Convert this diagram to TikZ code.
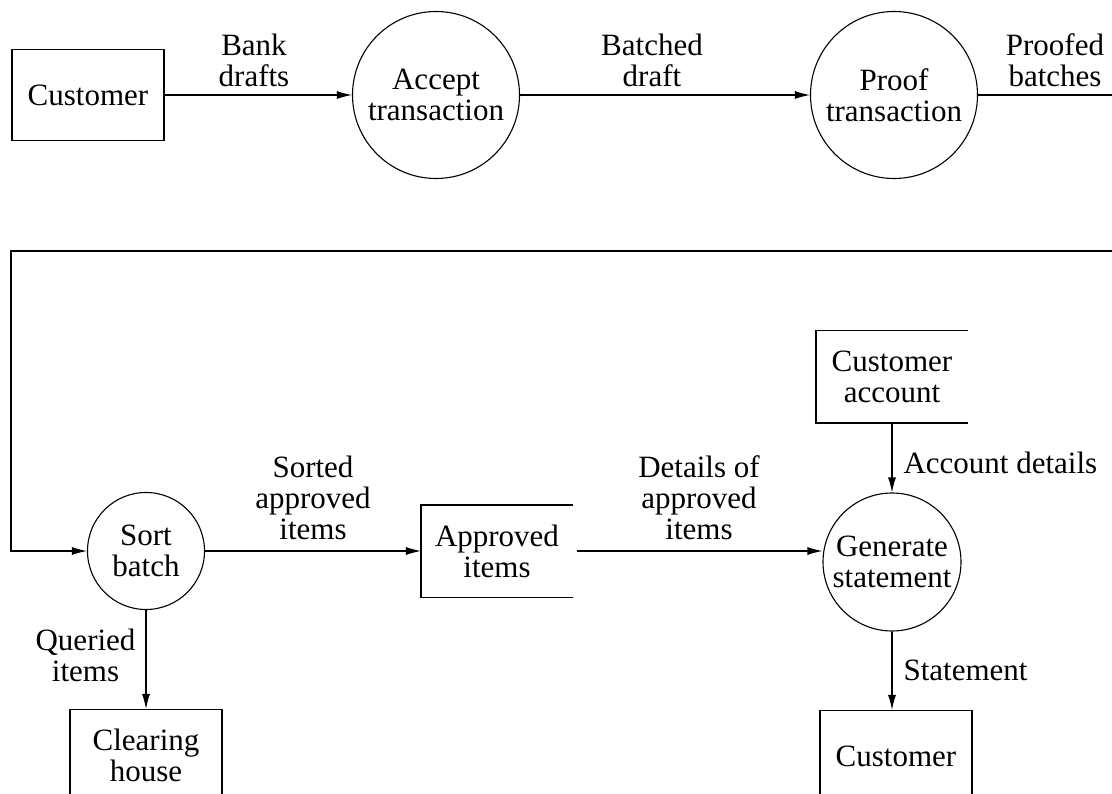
\documentclass[tikz,border=0pt]{standalone}
\usepackage{fontspec}
\setmainfont{Liberation Serif}
\usetikzlibrary{arrows.meta}
\newcommand{\dfdfont}{\fontsize{31pt}{31pt}\selectfont}

\begin{document}
\begin{tikzpicture}[x=1pt, y=-1pt,
		every node/.style={font=\dfdfont, align=center, inner sep=0pt},
		entity/.style={draw, rectangle, minimum width=152pt, minimum height=91pt},
		store/.style={rectangle, minimum width=151pt, minimum height=91pt},
		process/.style={draw, circle},
		flow/.style={-{Latex[length=15pt, width=8pt]}},
		line width=1.1pt]
			%%%%% START %%%%%
			
			\useasboundingbox (0, 0) rectangle (1112, 794);
			\clip (0, 0) rectangle (1112, 794);
			
			% top row
			\node[entity] (customer) at (88, 95) {Customer};
			\node[process, minimum size=167pt] (accept) at (436, 95) {Accept\\transaction};
			\node[process, minimum size=167pt] (proof) at (894, 95) {Proof\\transaction};
			
			\node (bankdrafts) at (254, 60) {Bank\\drafts};
			\node (batched) at (652, 60) {Batched\\draft};
			\node (proofed) at (1055, 60) {Proofed\\batches};
			
			\draw[flow] (customer.east) -- (accept.west);
			\draw[flow] (accept.east) -- (proof.west);
			
			% loop back round to the second row
			\coordinate (loopR) at (1150, 251);
			\coordinate (loopL) at (11, 251);
			
			% bottom row
			\node[process, minimum size=117pt] (sort) at (146, 551) {Sort\\batch};
			\node[store] (approved) at (497, 551) {Approved\\items};
			\node[process, minimum size=138pt] (generate) at (892, 562) {Generate\\statement};
			\node[store] (account) at (892, 377) {Customer\\account};
			\node[entity] (clearing) at (146, 755) {Clearing\\house};
			\node[entity] (customerB) at (896, 756) {Customer};
			
			\draw (approved.north east) -- (approved.north west) -- (approved.south west) -- (approved.south east);
			\draw (account.north east) -- (account.north west) -- (account.south west) -- (account.south east);
			
			\node (sorted) at (313, 498) {Sorted\\approved\\items};
			\node (details) at (699, 498) {Details of\\approved\\items};
			\node[anchor=west] (accdetails) at (903, 463) {Account details};
			\node[anchor=west] (statement) at (903, 670) {Statement};
			\node[anchor=east] (queried) at (136, 655) {Queried\\items};
			
			\draw[flow] (proof.east) -| (loopR) -- (loopL) |- (sort.west);
			\draw[flow] (sort.east) -- (approved.west);
			\draw[flow] ([xshift=4pt]approved.east) -- (approved.east -| generate.west);
			\draw[flow] (account.south) -- (generate.north);
			\draw[flow] (generate.south) -- (generate.south |- customerB.north);
			\draw[flow] (sort.south) -- (clearing.north);
			
			%%%%% END %%%%%
		\end{tikzpicture}
\end{document}
